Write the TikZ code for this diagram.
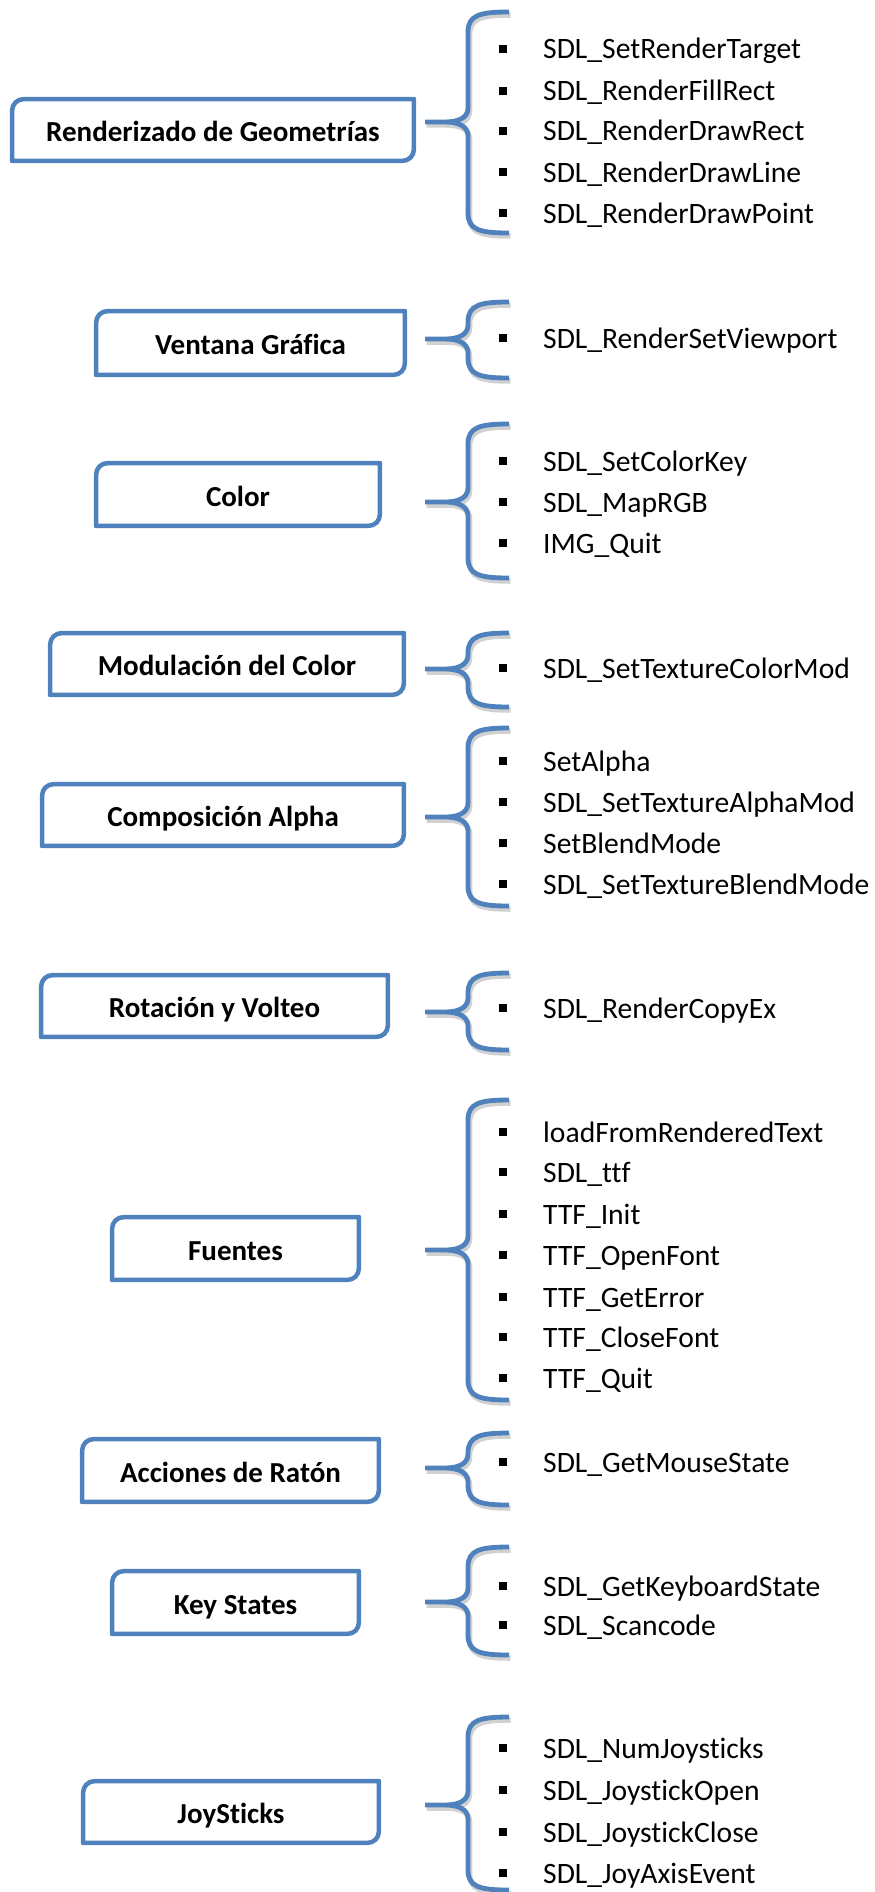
\documentclass[tikz,border=0pt]{standalone}
\usepackage{fontspec}
\setmainfont{Carlito}[Ligatures=NoCommon]
\usetikzlibrary{calc}
\definecolor{sdlblue}{HTML}{4F81BD}

% Category frame: a node plus an outline whose top-left and bottom-right corners are rounded
\newcommand\catframe[6]{%
  \node[catbox, minimum width={#4-#2-4.5}, minimum height={#5-#3-4.5}]
    (#1) at ({(#2+#4)/2},{(#3+#5)/2}) {#6};
  \draw[outline] (#1.south west) -- ($(#1.north west)+(0,12)$)
    .. controls ($(#1.north west)+(0,5)$) and ($(#1.north west)+(5,0)$) .. ($(#1.north west)+(12,0)$)
    -- (#1.north east) -- ($(#1.south east)+(0,-12)$)
    .. controls ($(#1.south east)+(0,-5)$) and ($(#1.south east)+(-5,0)$) .. ($(#1.south east)+(-12,0)$)
    -- cycle;
}

% Curly brace: top end, tip and bottom end (vertical positions)
\newcommand\bracehalves[3]{%
  (509,#1) .. controls (480,#1) and (468,{#1+3}) .. (468,{#1+20})
  -- (468,{#2-14}) .. controls (468,{#2-4}) and (458,#2) .. (445,#2) -- (425,#2)
  (425,#2) -- (445,#2) .. controls (458,#2) and (468,{#2+4}) .. (468,{#2+14})
  -- (468,{#3-20}) .. controls (468,{#3-3}) and (480,#3) .. (509,#3)
}
\newcommand\curly[4]{%
  \coordinate (#1) at (425,#3);
  \draw[braceshadow, shift={(1.5,3)}] \bracehalves{#2}{#3}{#4};
  \draw[bracestroke] \bracehalves{#2}{#3}{#4};
}

% One bullet entry: square marker and text
\newcommand\entryrow[3]{%
  \node[sq] (#1m) at (503,#2) {};
  \node[entry] (#1) at (543,{#2+10}) {#3};
}

\begin{document}
\begin{tikzpicture}[x=1pt,y=-1pt,
  catbox/.style={draw=none, inner sep=0pt,
    font=\fontsize{29}{35}\selectfont\bfseries, text height=23pt, text depth=0pt},
  outline/.style={draw=sdlblue, line width=4.5pt, line join=round},
  bracestroke/.style={draw=sdlblue, line width=4.8pt, line join=round},
  braceshadow/.style={draw=black, opacity=0.18, line width=5.5pt, line join=round},
  entry/.style={anchor=base west, inner sep=0pt, font=\fontsize{29.6}{35}\selectfont},
  sq/.style={fill=black, minimum size=8pt, inner sep=0pt}
]
\useasboundingbox (0,0) rectangle (875,1892);

% Renderizado de Geometrías
\catframe{b1}{10}{97}{416}{163}{Renderizado de Geometrías}
\curly{k1}{12}{122}{233}
\entryrow{a1}{49}{SDL\_SetRenderTarget}
\entryrow{a2}{91}{SDL\_RenderFillRect}
\entryrow{a3}{131}{SDL\_RenderDrawRect}
\entryrow{a4}{172}{SDL\_RenderDrawLine}
\entryrow{a5}{213}{SDL\_RenderDrawPoint}

% Ventana Gráfica
\catframe{b2}{94}{309}{407}{377}{Ventana Gráfica}
\curly{k2}{302}{339}{378}
\entryrow{c1}{338}{SDL\_RenderSetViewport}

% Color
\catframe{b3}{94}{461}{382}{528}{Color}
\curly{k3}{424}{502}{578}
\entryrow{d1}{461}{SDL\_SetColorKey}
\entryrow{d2}{502}{SDL\_MapRGB}
\entryrow{d3}{543}{IMG\_Quit}

% Modulación del Color
\catframe{b4}{48}{631}{406}{697}{Modulación del Color}
\curly{k4}{633}{669}{707}
\entryrow{e1}{668}{SDL\_SetTextureColorMod}

% Composición Alpha
\catframe{b5}{40}{782}{406}{848}{Composición Alpha}
\curly{k5}{728}{817}{906}
\entryrow{f1}{761}{SetAlpha}
\entryrow{f2}{802}{SDL\_SetTextureAlphaMod}
\entryrow{f3}{843}{SetBlendMode}
\entryrow{f4}{884}{SDL\_SetTextureBlendMode}

% Rotación y Volteo
\catframe{b6}{39}{973}{390}{1039}{Rotación y Volteo}
\curly{k6}{973}{1012}{1050}
\entryrow{g1}{1008}{SDL\_RenderCopyEx}

% Fuentes
\catframe{b7}{110}{1215}{361}{1282}{Fuentes}
\curly{k7}{1100}{1250}{1400}
\entryrow{h1}{1132}{loadFromRenderedText}
\entryrow{h2}{1172}{SDL\_ttf}
\entryrow{h3}{1214}{TTF\_Init}
\entryrow{h4}{1255}{TTF\_OpenFont}
\entryrow{h5}{1297}{TTF\_GetError}
\entryrow{h6}{1337}{TTF\_CloseFont}
\entryrow{h7}{1378}{TTF\_Quit}

% Acciones de Ratón
\catframe{b8}{80}{1437}{381}{1504}{Acciones de Ratón}
\curly{k8}{1433}{1468}{1505}
\entryrow{m1}{1462}{SDL\_GetMouseState}

% Key States
\catframe{b9}{110}{1569}{361}{1636}{Key States}
\curly{k9}{1547}{1602}{1655}
\entryrow{n1}{1586}{SDL\_GetKeyboardState}
\entryrow{n2}{1625}{SDL\_Scancode}

% JoySticks
\catframe{b10}{81}{1779}{381}{1845}{JoySticks}
\curly{k10}{1717}{1805}{1890}
\entryrow{p1}{1748}{SDL\_NumJoysticks}
\entryrow{p2}{1790}{SDL\_JoystickOpen}
\entryrow{p3}{1832}{SDL\_JoystickClose}
\entryrow{p4}{1873}{SDL\_JoyAxisEvent}
\end{tikzpicture}
\end{document}
